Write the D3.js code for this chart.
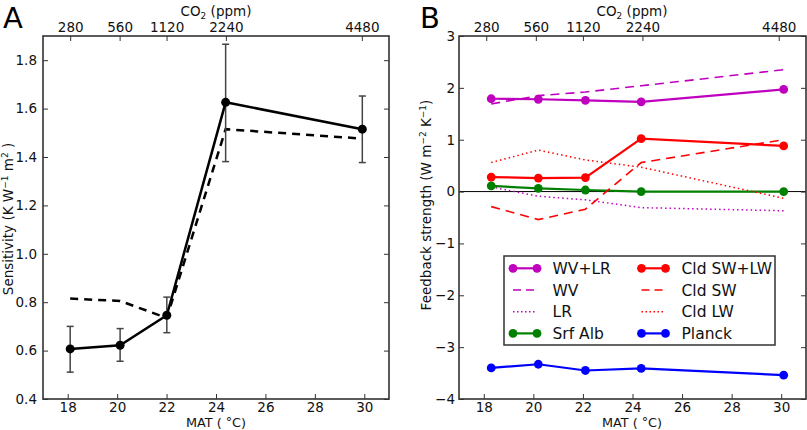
<!DOCTYPE html>
<html><head><meta charset="utf-8">
<script src="https://cdn.jsdelivr.net/npm/d3@7"></script>
<style>
body{margin:0;background:#fff;}
svg{font-family:"DejaVu Sans",sans-serif;}
</style></head>
<body><svg id="c" width="807" height="430"></svg>
<script>
// ---- data ----
const co2Labels = ["280","560","1120","2240","4480"];
const co2Mat = [18.1, 20.1, 22.0, 24.4, 29.9];
const xTicks = [18, 20, 22, 24, 26, 28, 30];

// Panel A
const matA = [18.1, 20.12, 22.01, 24.39, 29.92];
const sensSolid = [0.607, 0.622, 0.746, 1.626, 1.515];
const sensErrLow = [0.511, 0.556, 0.674, 1.381, 1.377];
const sensErrHigh = [0.700, 0.691, 0.821, 1.866, 1.652];
const sensDashed = [0.815, 0.805, 0.735, 1.515, 1.476];
const yTicksA = [0.4, 0.6, 0.8, 1.0, 1.2, 1.4, 1.6, 1.8];

// Panel B
const matB = [18.3, 20.2, 22.1, 24.35, 30.1];
const wvlr = [1.79, 1.78, 1.76, 1.73, 1.97];
const wv = [1.69, 1.85, 1.92, 2.04, 2.35];
const lr = [0.09, -0.09, -0.16, -0.31, -0.37];
const srfAlb = [0.11, 0.06, 0.03, 0.0, 0.0];
const cldSWLW = [0.28, 0.26, 0.27, 1.02, 0.88];
const cldSW = [-0.29, -0.54, -0.34, 0.56, 1.0];
const cldLW = [0.56, 0.80, 0.61, 0.47, -0.13];
const planck = [-3.40, -3.33, -3.45, -3.41, -3.54];
const yTicksB = [-4, -3, -2, -1, 0, 1, 2, 3];

const seriesB = [
  {name:"WV+LR", vals:wvlr, color:"#bf00bf", style:"solid", marker:true},
  {name:"WV", vals:wv, color:"#bf00bf", style:"dashed", marker:false},
  {name:"LR", vals:lr, color:"#bf00bf", style:"dotted", marker:false},
  {name:"Srf Alb", vals:srfAlb, color:"#008000", style:"solid", marker:true},
  {name:"Cld SW+LW", vals:cldSWLW, color:"#ff0000", style:"solid", marker:true},
  {name:"Cld SW", vals:cldSW, color:"#ff0000", style:"dashed", marker:false},
  {name:"Cld LW", vals:cldLW, color:"#ff0000", style:"dotted", marker:false},
  {name:"Planck", vals:planck, color:"#0000ff", style:"solid", marker:true}
];

const svg = d3.select("#c");
const frameColor = "#333";
const FS = 13.5;
const fmtMinus = d => (d < 0 ? "\u2212" + Math.abs(d) : String(d));

function drawFrame(g, x, y, yTicks, yFmt, leftPad) {
  const [x0, x1] = x.range();
  const [y0, y1] = y.range();
  const b = g.append("g").attr("transform", `translate(0,${y0})`)
    .call(d3.axisBottom(x).tickValues(xTicks).tickSize(-5).tickPadding(3).tickFormat(d3.format("d")));
  const t = g.append("g").attr("transform", `translate(0,${y1})`)
    .call(d3.axisTop(x).tickValues(co2Mat).tickSize(-5).tickPadding(4).tickFormat((d,i)=>co2Labels[i]));
  const l = g.append("g").attr("transform", `translate(${x0},0)`)
    .call(d3.axisLeft(y).tickValues(yTicks).tickSize(-5).tickPadding(leftPad).tickFormat(yFmt));
  const r = g.append("g").attr("transform", `translate(${x1},0)`)
    .call(d3.axisRight(y).tickValues(yTicks).tickSize(-5).tickFormat(""));
  [b,t,l,r].forEach(a => {
    a.selectAll(".domain").remove();
    a.selectAll("line").attr("stroke", frameColor).attr("stroke-width", 1);
    a.selectAll("text").attr("font-size", FS).attr("fill", "#111")
      .attr("font-family", "DejaVu Sans");
  });
  g.append("rect").attr("x", x0).attr("y", y1).attr("width", x1 - x0).attr("height", y0 - y1)
    .attr("fill", "none").attr("stroke", frameColor).attr("stroke-width", 1.6);
}

function co2Title(g, cx) {
  const t = g.append("text").attr("x", cx).attr("y", 15.5).attr("text-anchor", "middle")
    .attr("font-size", FS).attr("fill", "#111");
  t.append("tspan").text("CO");
  t.append("tspan").text("2").attr("font-size", 9).attr("dy", 3);
  t.append("tspan").text(" (ppm)").attr("dy", -3);
}

function matTitle(g, cx) {
  const t = g.append("text").attr("x", cx).attr("y", 426.5).attr("text-anchor", "middle")
    .attr("font-size", 12.8).attr("fill", "#111");
  t.append("tspan").text("MAT ( ");
  t.append("tspan").text("\u00B0").attr("dy", -1);
  t.append("tspan").text("C)").attr("dy", 1);
}

// ===== Panel A =====
const xA = d3.scaleLinear().domain([17, 31]).range([43, 389]);
const yA = d3.scaleLinear().domain([0.4, 1.9]).range([399, 36]);
const gA = svg.append("g");

gA.append("path").datum(matA.map((m,i)=>[m, sensDashed[i]]))
  .attr("d", d3.line().x(d=>xA(d[0])).y(d=>yA(d[1])))
  .attr("fill","none").attr("stroke","#000").attr("stroke-width",2.5).attr("stroke-dasharray","8,6");
matA.forEach((m,i)=>{
  const gx = xA(m);
  gA.append("line").attr("x1",gx).attr("x2",gx).attr("y1",yA(sensErrLow[i])).attr("y2",yA(sensErrHigh[i]))
    .attr("stroke","#444").attr("stroke-width",1.5);
  [sensErrLow[i], sensErrHigh[i]].forEach(v=>{
    gA.append("line").attr("x1",gx-3.5).attr("x2",gx+3.5).attr("y1",yA(v)).attr("y2",yA(v))
      .attr("stroke","#444").attr("stroke-width",1.5);
  });
});
gA.append("path").datum(matA.map((m,i)=>[m, sensSolid[i]]))
  .attr("d", d3.line().x(d=>xA(d[0])).y(d=>yA(d[1])))
  .attr("fill","none").attr("stroke","#000").attr("stroke-width",2.5);
gA.selectAll("circle.pt").data(matA.map((m,i)=>[m, sensSolid[i]])).enter().append("circle")
  .attr("cx",d=>xA(d[0])).attr("cy",d=>yA(d[1])).attr("r",4.5).attr("fill","#000");

drawFrame(gA, xA, yA, yTicksA, d3.format(".1f"), 6);
co2Title(gA, 216);
matTitle(gA, 216);
{
  const t = gA.append("text").attr("transform","translate(13,219) rotate(-90)")
    .attr("text-anchor","middle").attr("font-size",FS).attr("fill","#111");
  t.append("tspan").text("Sensitivity (K W");
  t.append("tspan").text("\u22121").attr("font-size",9).attr("dy",-5);
  t.append("tspan").text(" m").attr("dy",5);
  t.append("tspan").text("2").attr("font-size",9).attr("dy",-5);
  t.append("tspan").text(" )").attr("dy",5);
}
gA.append("text").attr("x", 3).attr("y", 28).attr("font-size", 29).attr("fill","#000").text("A");

// ===== Panel B =====
const xB = d3.scaleLinear().domain([17, 31]).range([459, 806]);
const yB = d3.scaleLinear().domain([-4, 3]).range([399, 36]);
const gB = svg.append("g");

gB.append("line").attr("x1", xB(17)).attr("x2", xB(31)).attr("y1", yB(0)).attr("y2", yB(0))
  .attr("stroke","#000").attr("stroke-width",1);

const dashFor = s => s === "dashed" ? "9,6" : (s === "dotted" ? "1.5,3" : null);
const widthFor = s => s === "solid" ? 2.2 : (s === "dashed" ? 1.6 : 1.5);

seriesB.forEach(s=>{
  const pts = matB.map((m,i)=>[m, s.vals[i]]);
  gB.append("path").datum(pts)
    .attr("d", d3.line().x(d=>xB(d[0])).y(d=>yB(d[1])))
    .attr("fill","none").attr("stroke", s.color).attr("stroke-width", widthFor(s.style))
    .attr("stroke-dasharray", dashFor(s.style));
  if (s.marker) {
    gB.selectAll(null).data(pts).enter().append("circle")
      .attr("cx",d=>xB(d[0])).attr("cy",d=>yB(d[1])).attr("r",4.4).attr("fill",s.color);
  }
});

drawFrame(gB, xB, yB, yTicksB, fmtMinus, 4);
co2Title(gB, 632);
matTitle(gB, 632);
{
  const t = gB.append("text").attr("transform","translate(431,205) rotate(-90)")
    .attr("text-anchor","middle").attr("font-size",FS).attr("fill","#111");
  t.append("tspan").text("Feedback strength (W m");
  t.append("tspan").text("\u22122").attr("font-size",9).attr("dy",-5);
  t.append("tspan").text(" K").attr("dy",5);
  t.append("tspan").text("\u22121").attr("font-size",9).attr("dy",-5);
  t.append("tspan").text(")").attr("dy",5);
}
gB.append("text").attr("x", 420).attr("y", 28).attr("font-size", 29).attr("fill","#000").text("B");

const lg = gB.append("g");
lg.append("rect").attr("x",504).attr("y",256).attr("width",271).attr("height",89)
  .attr("fill","#fff").attr("stroke",frameColor).attr("stroke-width",1.5);
const colX = [513, 641.5];
const textX = [552.5, 681.5];
seriesB.forEach((s,i)=>{
  const col = Math.floor(i/4), row = i % 4;
  const yy = 268.3 + row * 21.7;
  const x1 = colX[col], x2 = colX[col] + 24;
  lg.append("line").attr("x1",x1).attr("x2",x2).attr("y1",yy).attr("y2",yy)
    .attr("stroke",s.color).attr("stroke-width",widthFor(s.style))
    .attr("stroke-dasharray", s.style==="dashed" ? "8,5" : (s.style==="dotted" ? "1.5,2.5" : null));
  if (s.marker) {
    [x1,x2].forEach(cx=>lg.append("circle").attr("cx",cx).attr("cy",yy).attr("r",4.4).attr("fill",s.color));
  }
  lg.append("text").attr("x", textX[col]).attr("y", yy).attr("dy","0.36em")
    .attr("font-size",15.5).attr("fill","#111").text(s.name);
});
</script>
</body></html>
